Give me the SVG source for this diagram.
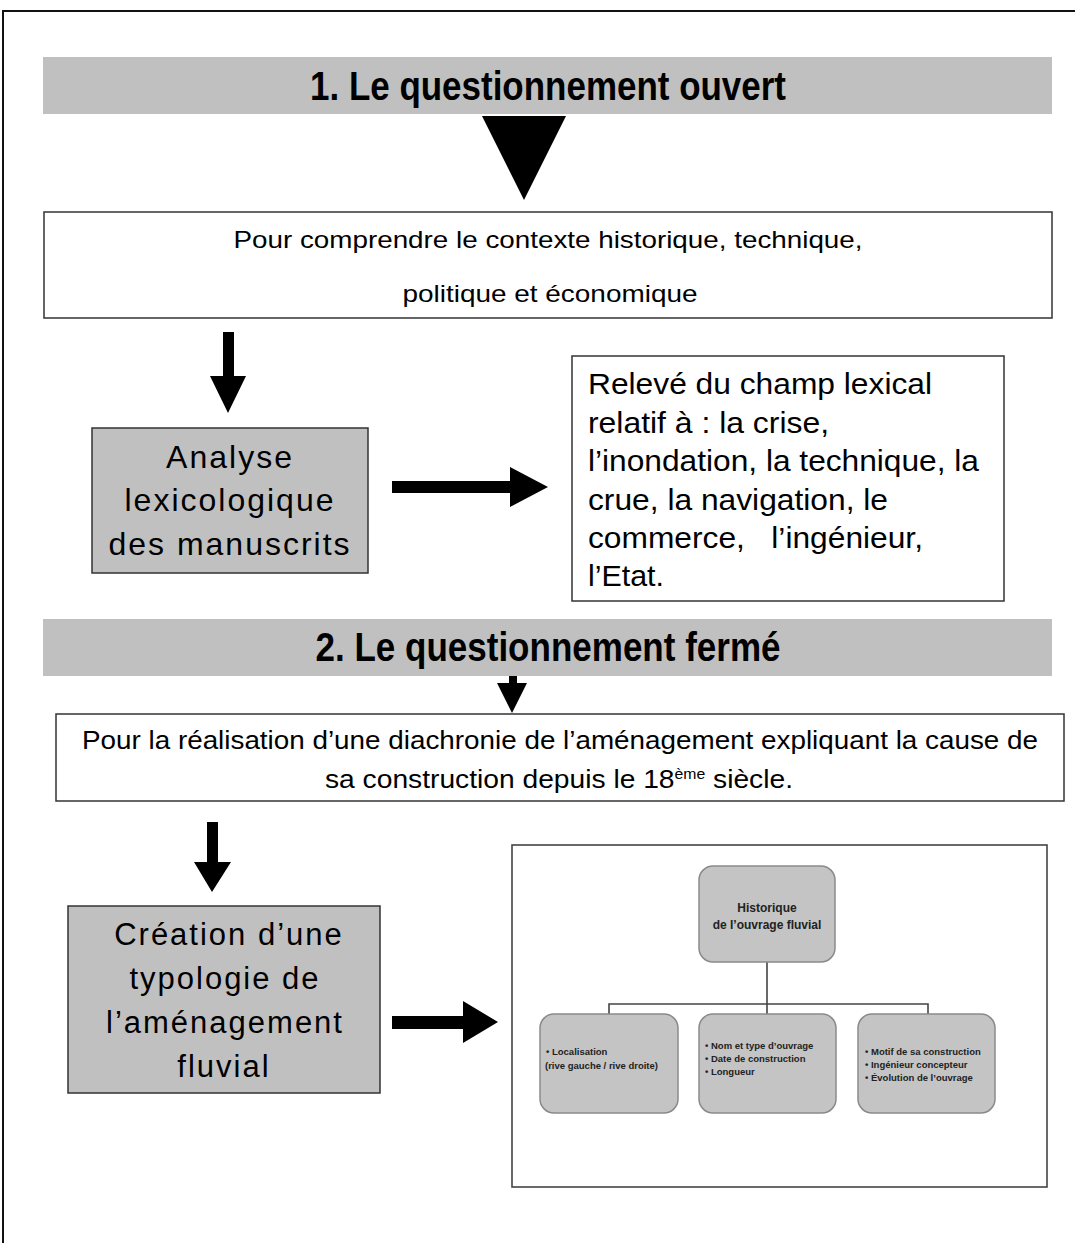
<svg xmlns="http://www.w3.org/2000/svg" width="1075" height="1243" viewBox="0 0 1075 1243">
<style>
.hdr{fill:#c0c0c0}
.hdrt{font-family:"Liberation Sans Narrow","Liberation Sans",Arial,sans-serif;font-weight:bold;font-size:40px;fill:#000;text-anchor:middle}
.box{fill:#fff;stroke:#333;stroke-width:1.5}
.gbox{fill:#c0c0c0;stroke:#333;stroke-width:1.5}
.t{font-family:"Liberation Sans",Arial,sans-serif;fill:#000}
.big{font-size:32px;letter-spacing:2px;text-anchor:middle}
.ob{fill:#c4c4c4;stroke:#8a8a8a;stroke-width:1.5}
.ot{font-family:"Liberation Sans",Arial,sans-serif;font-weight:bold;fill:#222}
.arr{fill:#000}
.oc{stroke:#444;stroke-width:1.6;fill:none}
</style>
<rect width="1075" height="1243" fill="#fff"/>
<path d="M3 1243 V11 H1075" fill="none" stroke="#111" stroke-width="2"/>

<g id="header1">
<rect class="hdr" x="43" y="57" width="1009" height="57"/>
<text class="hdrt" x="548" y="100" textLength="476" lengthAdjust="spacingAndGlyphs">1. Le questionnement ouvert</text>
</g>

<g id="box-contexte">
<rect class="box" x="44" y="212" width="1008" height="106"/>
<text class="t" x="548" y="248" font-size="24" text-anchor="middle" textLength="629" lengthAdjust="spacingAndGlyphs">Pour comprendre le contexte historique, technique,</text>
<text class="t" x="550" y="302" font-size="24" text-anchor="middle" textLength="295" lengthAdjust="spacingAndGlyphs">politique et économique</text>
</g>

<g id="box-analyse">
<rect class="gbox" x="92" y="428" width="276" height="145"/>
<text class="t big" x="230" y="468">Analyse</text>
<text class="t big" x="230" y="511">lexicologique</text>
<text class="t big" x="230" y="555">des manuscrits</text>
</g>

<g id="box-releve">
<rect class="box" x="572" y="356" width="432" height="245"/>
<g class="t" font-size="29">
<text x="588" y="394" textLength="344" lengthAdjust="spacingAndGlyphs">Relevé du champ lexical</text>
<text x="588" y="433" textLength="241" lengthAdjust="spacingAndGlyphs">relatif à : la crise,</text>
<text x="588" y="471" textLength="391" lengthAdjust="spacingAndGlyphs">l’inondation, la technique, la</text>
<text x="588" y="510" textLength="300" lengthAdjust="spacingAndGlyphs">crue, la navigation, le</text>
<text x="588" y="548" textLength="335" lengthAdjust="spacingAndGlyphs" xml:space="preserve">commerce,   l’ingénieur,</text>
<text x="588" y="586" textLength="76" lengthAdjust="spacingAndGlyphs">l’Etat.</text>
</g>
</g>

<g id="header2">
<rect class="hdr" x="43" y="619" width="1009" height="57"/>
<text class="hdrt" x="548" y="661" textLength="465" lengthAdjust="spacingAndGlyphs">2. Le questionnement fermé</text>
</g>

<g id="box-diachronie">
<rect class="box" x="56" y="714" width="1008" height="87"/>
<text class="t" x="560" y="749" font-size="25" text-anchor="middle" textLength="956" lengthAdjust="spacingAndGlyphs">Pour la réalisation d’une diachronie de l’aménagement expliquant la cause de</text>
<text class="t" x="325" y="788" font-size="25" textLength="468" lengthAdjust="spacingAndGlyphs">sa construction depuis le 18<tspan font-size="14" dy="-9">ème</tspan><tspan dy="9"> siècle.</tspan></text>
</g>

<g id="box-creation">
<rect class="gbox" x="68" y="906" width="312" height="187"/>
<g class="t" font-size="31" letter-spacing="2" text-anchor="middle">
<text x="229" y="945">Création d’une</text>
<text x="225" y="989">typologie de</text>
<text x="225" y="1033">l’aménagement</text>
<text x="224" y="1077">fluvial</text>
</g>
</g>

<g id="box-schema">
<rect x="512" y="845" width="535" height="342" fill="#fff" stroke="#444" stroke-width="1.6"/>
<path class="oc" d="M767 962 V1014 M609 1014 V1004 H928 V1014"/>
<g id="org-top">
<rect class="ob" x="699" y="866" width="136" height="96" rx="14"/>
<text class="ot" x="767" y="912" font-size="12" text-anchor="middle">Historique</text>
<text class="ot" x="767" y="929" font-size="12" text-anchor="middle">de l’ouvrage fluvial</text>
</g>
<g id="org-left">
<rect class="ob" x="540" y="1014" width="138" height="99" rx="14"/>
<text class="ot" x="546" y="1055" font-size="9.5">• Localisation</text>
<text class="ot" x="545" y="1069" font-size="9.5">(rive gauche / rive droite)</text>
</g>
<g id="org-middle">
<rect class="ob" x="699" y="1014" width="137" height="99" rx="14"/>
<text class="ot" x="705" y="1049" font-size="9.5">• Nom et type d’ouvrage</text>
<text class="ot" x="705" y="1062" font-size="9.5">• Date de construction</text>
<text class="ot" x="705" y="1075" font-size="9.5">• Longueur</text>
</g>
<g id="org-right">
<rect class="ob" x="858" y="1014" width="137" height="99" rx="14"/>
<text class="ot" x="865" y="1055" font-size="9.5">• Motif de sa construction</text>
<text class="ot" x="865" y="1068" font-size="9.5">• Ingénieur concepteur</text>
<text class="ot" x="865" y="1081" font-size="9.5">• Évolution de l’ouvrage</text>
</g>
</g>

<g id="connectors">
<polygon class="arr" points="482,116 566,116 524,200"/>
<polygon class="arr" points="223,332 234,332 234,376 246,376 228,413 210,376 223,376"/>
<polygon class="arr" points="392,481 510,481 510,467 548,487 510,507 510,493 392,493"/>
<polygon class="arr" points="509,676 517,676 517,683 527,683 512,713 497,683 509,683"/>
<polygon class="arr" points="207,822 218,822 218,862 231,862 212,892 194,862 207,862"/>
<polygon class="arr" points="392,1016 463,1016 463,1001 498,1022 463,1043 463,1029 392,1029"/>
</g>
</svg>
